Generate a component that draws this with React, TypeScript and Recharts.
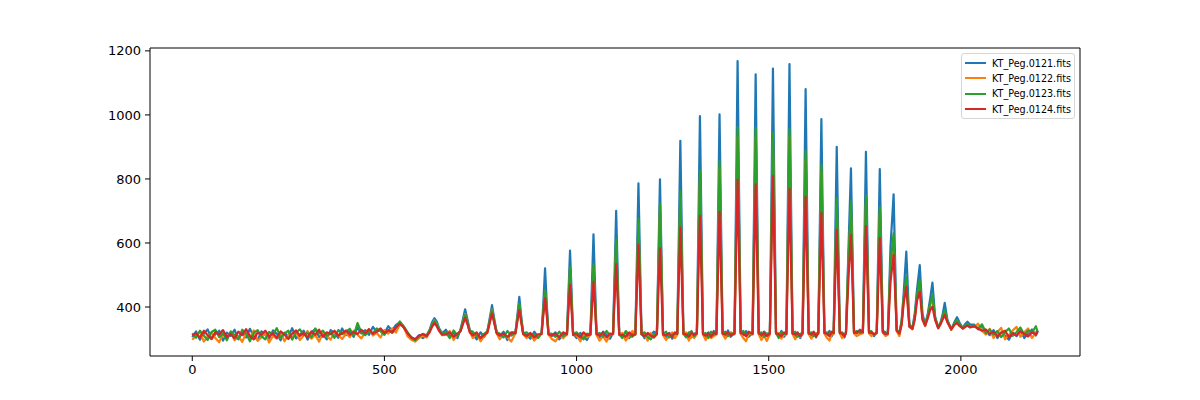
import { LineChart, Line, XAxis, YAxis, Legend, ReferenceLine } from 'recharts'

// sample positions (pixel index along the spectrum)
const xs = [
  0, 10, 20, 30, 40, 50, 60, 70, 80, 90, 100, 110, 120, 130, 140, 150, 160, 170, 180, 190,
  200, 210, 220, 230, 240, 250, 260, 270, 280, 290, 300, 310, 320, 330, 340, 350, 360, 370, 380, 390,
  400, 410, 420, 430, 440, 450, 460, 470, 480, 490, 500, 510, 520, 530, 540, 550, 560, 570, 580, 590, 600,
  610, 618, 624, 630, 636, 642, 650, 660, 670, 680, 690,
  698, 704, 710, 716, 722, 730, 740, 750, 760,
  768, 774, 780, 786, 792, 800, 810, 820, 830,
  841, 846, 851, 856, 861, 870, 880, 890, 900,
  909, 913, 918, 923, 927, 935, 945, 955, 965,
  975, 983, 991, 1000, 1010, 1018, 1027,
  1036, 1044, 1052, 1060, 1069, 1078, 1087,
  1095, 1103, 1111, 1119, 1128, 1137, 1145,
  1153, 1161, 1169, 1177, 1185, 1193, 1201,
  1209, 1217, 1225, 1233, 1241, 1249, 1256,
  1262, 1270, 1278, 1285, 1292, 1299, 1306,
  1313, 1321, 1329, 1336, 1343, 1350, 1357,
  1364, 1372, 1380, 1387, 1394, 1401,
  1411, 1419, 1427, 1434, 1441, 1448,
  1458, 1466, 1474, 1481, 1488, 1495,
  1503, 1511, 1519, 1526, 1533, 1540,
  1546, 1554, 1562, 1569, 1575, 1582,
  1588, 1596, 1604, 1611, 1617, 1623,
  1629, 1637, 1645, 1652, 1658, 1664,
  1669, 1677, 1685, 1691, 1697,
  1701, 1708, 1714, 1722, 1729, 1737,
  1745, 1753, 1761, 1767, 1774,
  1781, 1789, 1797, 1804,
  1810, 1817, 1825, 1833, 1840,
  1846, 1851, 1858, 1866, 1874,
  1880, 1886, 1893, 1900, 1907,
  1914, 1920, 1926, 1933, 1941,
  1948, 1953, 1958, 1965, 1975,
  1983, 1990, 1997, 2005,
  2012, 2017, 2024,
  2035, 2045, 2055, 2065, 2075, 2085, 2095, 2105, 2115, 2125, 2135, 2145, 2155, 2165, 2175, 2185, 2195, 2200,
]

const peg0121 = [
  306, 324, 298, 317, 330, 300, 315, 326, 295, 320, 310, 329, 299, 321, 305, 332, 309, 297, 324, 313,
  301, 327, 316, 296, 320, 308, 334, 302, 313, 326, 298, 321, 331, 306, 315, 299, 328, 318, 304, 333,
  312, 325, 307, 336, 318, 328, 313, 338, 322, 330, 318, 340, 326, 344, 352, 336, 317, 306, 297, 312, 303,
  310, 330, 352, 365, 355, 334, 318, 329, 309, 319, 303,
  330, 360, 393, 362, 328, 315, 299, 321, 307,
  325, 365, 406, 362, 322, 309, 323, 297, 321,
  322, 375, 432, 370, 320, 313, 301, 323, 307,
  320, 400, 521, 398, 318, 309, 321, 299, 315,
  318, 576, 316, 303, 319, 309, 297,
  317, 627, 318, 305, 323, 313, 301,
  319, 700, 317, 309, 321, 303, 317,
  317, 786, 318, 303, 317, 309, 323,
  318, 799, 316, 307, 319, 301, 315,
  318, 919, 319, 309, 321, 305, 317,
  319, 996, 318, 307, 321, 311, 325,
  318, 1002, 320, 311, 327, 307,
  319, 1168, 322, 313, 325, 307,
  318, 1127, 320, 309, 323, 315,
  319, 1145, 321, 311, 325, 307,
  318, 1159, 320, 309, 321, 303,
  319, 1081, 320, 311, 323, 305,
  320, 987, 321, 313, 325, 309,
  320, 900, 322, 315, 305,
  322, 600, 833, 322, 317, 329,
  324, 885, 323, 319, 309,
  322, 831, 326, 321,
  316, 590, 752, 330, 315,
  360, 440, 573, 345, 335,
  380, 455, 531, 380, 345,
  380, 425, 476, 370, 335,
  355, 380, 413, 360, 330,
  352, 368, 350, 335,
  348, 354, 345,
  345, 330, 340, 325, 312, 328, 303, 321, 311, 298, 320, 309, 326, 303, 318, 330, 311, 322,
]

const peg0122 = [
  298, 312, 324, 292, 307, 320, 303, 290, 316, 305, 321, 296, 309, 291, 318, 303, 327, 294, 306, 316,
  289, 310, 301, 323, 293, 314, 305, 320, 297, 311, 325, 301, 313, 292, 319, 309, 298, 323, 312, 300,
  318, 306, 326, 313, 302, 321, 330, 311, 319, 305, 328, 317, 333, 320, 345, 338, 309, 298, 292, 303, 311,
  305, 325, 345, 358, 348, 328, 312, 313, 325, 297, 315,
  325, 350, 378, 352, 322, 303, 317, 293, 309,
  322, 355, 392, 352, 318, 299, 313, 305, 292,
  318, 362, 405, 358, 315, 303, 317, 295, 311,
  316, 378, 445, 376, 314, 301, 293, 311, 303,
  314, 510, 312, 311, 293, 317, 305,
  312, 520, 313, 295, 309, 292, 313,
  315, 590, 313, 319, 295, 309, 325,
  313, 660, 314, 313, 295, 319, 305,
  314, 700, 312, 297, 311, 321, 303,
  314, 740, 315, 321, 295, 311, 303,
  315, 800, 314, 297, 313, 303, 309,
  314, 830, 315, 301, 315, 321,
  315, 930, 316, 303, 293, 317,
  314, 930, 315, 297, 311, 294,
  315, 920, 316, 319, 301, 313,
  314, 930, 316, 299, 313, 307,
  315, 860, 316, 301, 313, 319,
  316, 820, 317, 303, 295, 315,
  316, 720, 317, 303, 311,
  318, 550, 705, 318, 309, 315,
  318, 725, 318, 309, 317,
  318, 690, 320, 309,
  314, 520, 610, 325, 309,
  350, 420, 480, 340, 330,
  365, 430, 470, 365, 340,
  370, 405, 425, 362, 333,
  350, 370, 385, 355, 328,
  345, 355, 343, 332,
  340, 345, 338,
  338, 348, 326, 314, 332, 303, 321, 335, 299, 313, 327, 338, 307, 321, 333, 303, 321, 327,
]

const peg0123 = [
  318, 304, 326, 311, 297, 322, 329, 306, 318, 296, 324, 312, 300, 329, 317, 293, 320, 328, 308, 299,
  322, 314, 334, 304, 317, 326, 298, 321, 330, 312, 319, 305, 333, 317, 326, 310, 321, 304, 328, 315,
  323, 332, 310, 350, 320, 312, 326, 318, 333, 324, 313, 328, 319, 334, 355, 340, 322, 304, 296, 309, 316,
  312, 328, 345, 356, 348, 330, 316, 321, 303, 327, 311,
  327, 352, 376, 354, 326, 323, 309, 305, 317,
  324, 356, 390, 355, 321, 317, 305, 325, 311,
  320, 365, 411, 362, 318, 321, 309, 315, 303,
  318, 382, 453, 380, 316, 317, 307, 323, 309,
  316, 526, 315, 321, 309, 299, 317,
  315, 534, 316, 319, 307, 325, 311,
  318, 611, 315, 303, 325, 313, 307,
  316, 675, 316, 321, 307, 299, 315,
  317, 722, 315, 323, 305, 313, 319,
  317, 762, 317, 305, 317, 325, 309,
  318, 826, 316, 319, 303, 323, 313,
  317, 855, 318, 323, 309, 317,
  318, 962, 320, 325, 311, 319,
  317, 959, 318, 321, 307, 317,
  318, 944, 319, 303, 321, 315,
  317, 955, 318, 323, 307, 317,
  318, 887, 318, 321, 309, 315,
  319, 845, 319, 321, 311, 319,
  319, 740, 320, 321, 313,
  320, 560, 729, 320, 325, 319,
  322, 748, 321, 325, 313,
  320, 711, 323, 317,
  318, 540, 630, 328, 321,
  355, 425, 495, 342, 333,
  370, 440, 484, 370, 343,
  372, 410, 437, 365, 336,
  352, 372, 391, 356, 332,
  348, 360, 345, 334,
  342, 348, 340,
  342, 333, 346, 318, 330, 314, 325, 306, 321, 333, 310, 322, 336, 313, 327, 319, 340, 322,
]

const peg0124 = [
  311, 318, 304, 326, 312, 300, 322, 314, 328, 306, 316, 302, 323, 312, 331, 309, 299, 320, 313, 326,
  308, 318, 303, 324, 314, 300, 317, 327, 310, 319, 305, 324, 313, 329, 307, 321, 315, 326, 311, 318,
  327, 313, 322, 316, 329, 318, 331, 316, 323, 333, 319, 328, 321, 336, 348, 337, 318, 305, 300, 310, 315,
  309, 322, 338, 350, 340, 326, 314, 315, 321, 307, 317,
  324, 345, 366, 346, 321, 311, 321, 303, 313,
  320, 350, 380, 348, 318, 311, 317, 307, 319,
  318, 355, 390, 352, 316, 309, 319, 305, 315,
  316, 368, 427, 366, 314, 311, 317, 305, 321,
  315, 469, 313, 315, 305, 321, 311,
  314, 479, 315, 311, 319, 305, 317,
  316, 534, 314, 313, 307, 321, 311,
  315, 595, 315, 309, 319, 311, 305,
  316, 583, 314, 313, 317, 307, 321,
  316, 648, 316, 315, 307, 319, 313,
  317, 685, 315, 311, 317, 307, 319,
  316, 697, 317, 315, 321, 311,
  317, 798, 318, 317, 309, 323,
  316, 783, 317, 313, 319, 309,
  317, 810, 318, 315, 309, 321,
  316, 769, 317, 315, 319, 309,
  317, 744, 317, 315, 321, 309,
  318, 694, 318, 317, 309, 323,
  318, 641, 319, 317, 309,
  319, 500, 625, 319, 321, 325,
  321, 653, 320, 321, 315,
  319, 615, 321, 315,
  317, 480, 562, 326, 317,
  345, 410, 463, 338, 332,
  360, 420, 448, 360, 342,
  365, 390, 401, 360, 334,
  348, 362, 375, 352, 330,
  344, 350, 340, 333,
  338, 342, 336,
  340, 332, 326, 330, 316, 323, 309, 320, 326, 306, 318, 312, 324, 316, 308, 321, 314, 325,
]

const seriesNames = ['KT_Peg.0121.fits', 'KT_Peg.0122.fits', 'KT_Peg.0123.fits', 'KT_Peg.0124.fits']
const seriesColors = ['#1f77b4', '#ff7f0e', '#2ca02c', '#d62728']
const xTicks = [0, 500, 1000, 1500, 2000]
const yTicks = [400, 600, 800, 1000, 1200]

const data = xs.map((x, i) => ({
  x,
  s0: peg0121[i],
  s1: peg0122[i],
  s2: peg0123[i],
  s3: peg0124[i],
}))

const tickStyle = { fill: '#000', fontSize: 13, fontFamily: 'DejaVu Sans' }

function FitsLegend() {
  return (
    <div
      style={{
        boxSizing: 'border-box',
        width: 114,
        height: 66,
        border: '1px solid #d6d6d6',
        borderRadius: 3,
        background: 'rgba(255,255,255,0.8)',
        padding: '1.5px 0 0 2.5px',
      }}
    >
      {seriesNames.map((name, i) => (
        <div key={name} style={{ display: 'flex', alignItems: 'center', height: 15.3 }}>
          <span
            style={{ display: 'inline-block', width: 21, height: 2, background: seriesColors[i], marginRight: 6.5 }}
          />
          <span style={{ fontSize: 9.6, fontFamily: 'DejaVu Sans', color: '#000', whiteSpace: 'nowrap' }}>
            {name}
          </span>
        </div>
      ))}
    </div>
  )
}

export default function App() {
  return (
    <div style={{ position: 'absolute', left: 0, top: 0, width: 1200, height: 400, background: '#fff' }}>
      <LineChart width={1200} height={400} data={data} margin={{ top: 48, right: 120, bottom: 14, left: 100 }}>
        <XAxis
          dataKey="x"
          type="number"
          domain={[-110, 2310]}
          ticks={xTicks}
          height={30}
          tick={tickStyle}
          tickSize={5}
          tickMargin={4}
          axisLine={{ stroke: '#000' }}
          tickLine={{ stroke: '#000' }}
          allowDataOverflow
        />
        <YAxis
          type="number"
          domain={[247, 1209]}
          ticks={yTicks}
          width={50}
          tick={tickStyle}
          tickSize={5}
          tickMargin={4}
          axisLine={{ stroke: '#000' }}
          tickLine={{ stroke: '#000' }}
          allowDataOverflow
        />
        <ReferenceLine y={1209} stroke="#000" />
        <ReferenceLine x={2310} stroke="#000" />
        {seriesNames.map((name, i) => (
          <Line
            key={name}
            dataKey={'s' + i}
            name={name}
            stroke={seriesColors[i]}
            strokeWidth={2.2}
            dot={false}
            activeDot={false}
            isAnimationActive={false}
            strokeLinejoin="round"
          />
        ))}
        <Legend
          layout="vertical"
          align="center"
          verticalAlign="middle"
          wrapperStyle={{ left: 961, top: 53, width: 114, height: 66 }}
          content={() => <FitsLegend />}
        />
      </LineChart>
    </div>
  )
}
